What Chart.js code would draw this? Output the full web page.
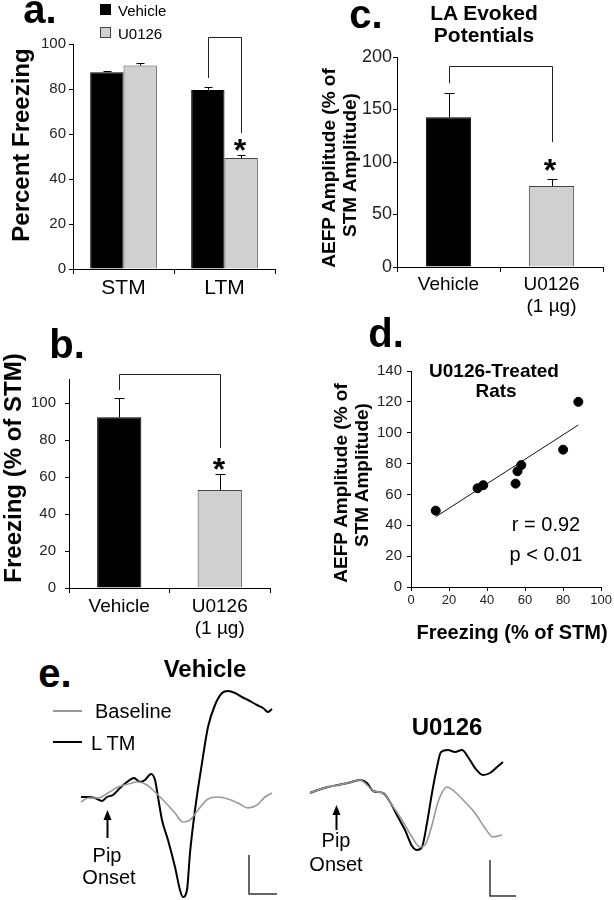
<!DOCTYPE html>
<html>
<head>
<meta charset="utf-8">
<script src="https://cdn.jsdelivr.net/npm/chart.js@4.4.1/dist/chart.umd.min.js"></script>
<style>
  body { margin: 0; background: #fff; }
  #page { position: relative; width: 614px; height: 900px; overflow: hidden; background: #fff;
          font-family: "Liberation Sans", Arial, sans-serif; color: #000; }
  #page canvas { position: absolute; }
  .t { position: absolute; white-space: nowrap; line-height: 1; transform: translate(-50%, -50%); }
  .t.left { transform: translate(0, -50%); }
  .t.rot { transform: translate(-50%, -50%) rotate(-90deg); }
  .t.b { font-weight: bold; }
  .box { position: absolute; }
</style>
</head>
<body>
<div id="page"></div>
<script>
// panel a: percent freezing
const memoryTests = ["STM", "LTM"];
const freezeVehicle = [87.4, 79.6];
const freezeVehicleErr = [0.8, 1.2];
const freezeU0126 = [90.4, 49.3];
const freezeU0126Err = [1.3, 1.4];

// panel b + c: vehicle vs drug
const groups = ["Vehicle", ["U0126", "(1 µg)"]];
const freezePctStm = [92.3, 53];
const freezePctStmErr = [10.6, 8.5];
const aefpPctStm = [142.6, 77.1];
const aefpPctStmErr = [22.8, 6.7];

// panel d: U0126 treated rats
const ratFreezing = [13, 35, 38, 55, 56, 58, 80, 88];
const ratAefp = [49.5, 64, 66, 67, 75, 79, 89, 120];
const trendFreezing = [13, 88];
const trendAefp = [45.5, 105];

// panel e: evoked potential traces (time, amplitude)
const vehLtmT = [0, 7, 14, 21, 26, 32, 39, 46, 53, 59, 64, 70, 74, 77, 81, 87, 94, 99, 102, 106, 109, 114, 121, 127, 134, 141, 147, 154, 161, 167, 176, 182, 187, 191];
const vehLtmV = [0.3, 0.3, 0.2, -0.1, 0.3, 0.5, 1.2, 1.8, 2.2, 1.8, 2.0, 2.6, 2.0, 0.3, -2.0, -4.0, -6.7, -9.0, -9.7, -9.0, -5.3, -1.0, 3.7, 7.3, 9.5, 10.7, 10.9, 10.7, 10.3, 10.0, 9.5, 9.2, 8.8, 9.1];
const vehBaseT = [0, 7, 17, 27, 37, 47, 57, 66, 74, 84, 94, 102, 109, 117, 127, 137, 147, 157, 167, 176, 184, 191];
const vehBaseV = [-0.2, 0.2, 0.2, 0.7, 1.3, 1.6, 1.8, 1.5, 0.8, -0.2, -1.3, -2.2, -2.0, -1.0, 0.1, 0.3, 0.1, -0.3, -0.8, -0.5, 0.3, 0.7];
const druLtmT = [0, 8, 18, 28, 38, 50, 57, 63, 73, 80, 88, 95, 102, 107, 112, 117, 122, 127, 131, 138, 145, 152, 158, 165, 173, 180, 187, 193];
const druLtmV = [0.7, 1.0, 1.3, 1.5, 1.7, 2.0, 1.7, 0.9, 0.7, -0.2, -1.7, -3.0, -4.6, -5.0, -4.7, -2.3, 0.7, 3.3, 4.8, 5.0, 4.8, 5.0, 4.3, 3.2, 2.5, 2.7, 3.3, 3.8];
const druBaseT = [0, 8, 18, 28, 38, 50, 57, 63, 73, 82, 92, 102, 110, 115, 122, 128, 137, 145, 155, 165, 175, 183, 192];
const druBaseV = [0.7, 1.0, 1.3, 1.5, 1.7, 2.0, 1.5, 0.9, 0.7, -0.5, -2.0, -3.7, -4.7, -4.5, -2.5, -0.2, 1.3, 0.8, -0.2, -1.3, -2.8, -3.7, -3.5];

const FONT = "'Liberation Sans', Arial, sans-serif";
const GREY = "#d0d0d0";
Chart.defaults.font.family = FONT;
Chart.defaults.color = "#000";
Chart.defaults.animation = false;
Chart.defaults.responsive = false;
Chart.defaults.devicePixelRatio = 1;
Chart.defaults.plugins.legend.display = false;
Chart.defaults.plugins.tooltip.enabled = false;

const page = document.getElementById("page");

function makeCanvas(left, top, w, h) {
  const c = document.createElement("canvas");
  c.width = w;
  c.height = h;
  c.style.left = left + "px";
  c.style.top = top + "px";
  c.style.width = w + "px";
  c.style.height = h + "px";
  page.appendChild(c);
  return c;
}

function addText(txt, x, y, size, cls) {
  const d = document.createElement("div");
  d.className = "t " + (cls || "");
  d.style.left = x + "px";
  d.style.top = y + "px";
  d.style.fontSize = size + "px";
  d.textContent = txt;
  page.appendChild(d);
}

function addBox(x, y, w, h, style) {
  const d = document.createElement("div");
  d.className = "box";
  Object.assign(d.style, { left: x + "px", top: y + "px", width: w + "px", height: h + "px" }, style);
  page.appendChild(d);
}

const pts = (xs, ys) => xs.map((x, i) => ({ x, y: ys[i] }));

// error bars (up only) and significance bracket
const barExtras = {
  id: "barExtras",
  afterDatasetsDraw(chart, args, opts) {
    const ctx = chart.ctx;
    const y = chart.scales.y;
    ctx.save();
    ctx.strokeStyle = "#000";
    ctx.lineWidth = 1;
    (opts.errors || []).forEach((errs, di) => {
      const meta = chart.getDatasetMeta(di);
      const vals = chart.data.datasets[di].data;
      meta.data.forEach((bar, i) => {
        const x = Math.round(bar.x) + 0.5;
        const top = Math.round(y.getPixelForValue(vals[i] + errs[i])) + 0.5;
        ctx.beginPath();
        ctx.moveTo(x, bar.y);
        ctx.lineTo(x, top);
        ctx.moveTo(x - opts.cap, top);
        ctx.lineTo(x + opts.cap, top);
        ctx.stroke();
      });
    });
    const br = opts.bracket;
    if (br) {
      const x1 = Math.round(chart.getDatasetMeta(br.from[0]).data[br.from[1]].x) + 0.5;
      const x2 = Math.round(chart.getDatasetMeta(br.to[0]).data[br.to[1]].x) + 0.5;
      const top = Math.round(y.getPixelForValue(br.top)) + 0.5;
      ctx.strokeStyle = "#222";
      ctx.beginPath();
      ctx.moveTo(x1, y.getPixelForValue(br.start));
      ctx.lineTo(x1, top);
      ctx.lineTo(x2, top);
      ctx.lineTo(x2, y.getPixelForValue(br.end));
      ctx.stroke();
    }
    ctx.restore();
  },
};

// pip onset arrow and scale bar on the traces
const traceMarks = {
  id: "traceMarks",
  afterDatasetsDraw(chart, args, opts) {
    const { ctx, scales: { x, y } } = chart;
    const ax = Math.round(x.getPixelForValue(opts.arrow.t)) + 0.5;
    const tail = y.getPixelForValue(opts.arrow.from);
    const tip = y.getPixelForValue(opts.arrow.to);
    ctx.save();
    ctx.strokeStyle = "#000";
    ctx.fillStyle = "#000";
    ctx.lineWidth = 2;
    ctx.beginPath();
    ctx.moveTo(ax, tail);
    ctx.lineTo(ax, tip + 8);
    ctx.stroke();
    ctx.beginPath();
    ctx.moveTo(ax, tip);
    ctx.lineTo(ax - 4, tip + 10);
    ctx.lineTo(ax + 4, tip + 10);
    ctx.closePath();
    ctx.fill();
    const s = opts.bar;
    ctx.strokeStyle = "#333";
    ctx.lineWidth = 1.5;
    ctx.beginPath();
    ctx.moveTo(x.getPixelForValue(s.t0), y.getPixelForValue(s.v0));
    ctx.lineTo(x.getPixelForValue(s.t0), y.getPixelForValue(s.v1));
    ctx.lineTo(x.getPixelForValue(s.t1), y.getPixelForValue(s.v1));
    ctx.stroke();
    ctx.restore();
  },
};

function yAxis(min, max, step, width, tickSize, pad) {
  return {
    min, max,
    ticks: { stepSize: step, includeBounds: false, font: { size: tickSize }, color: "#222", padding: pad },
    grid: { drawOnChartArea: false, tickLength: 4, color: "#000" },
    border: { color: "#000" },
    afterFit: (s) => { s.width = width; },
  };
}

function catAxis(height, labelSize, pad) {
  return {
    ticks: { font: { size: labelSize }, color: "#000", padding: pad },
    grid: { offset: true, drawOnChartArea: false, tickLength: 5, color: "#000" },
    border: { color: "#000" },
    afterFit: (s) => { s.height = height; },
  };
}

// ---- panel a ----
new Chart(makeCanvas(0, 0, 300, 300), {
  type: "bar",
  data: {
    labels: memoryTests,
    datasets: [
      { label: "Vehicle", data: freezeVehicle, backgroundColor: "#000", borderColor: "#000", borderWidth: 1 },
      { label: "U0126", data: freezeU0126, backgroundColor: GREY, borderColor: "#444", borderWidth: 1 },
    ],
  },
  options: {
    layout: { padding: { top: 44, right: 25, left: 0, bottom: 0 } },
    datasets: { bar: { barPercentage: 1, categoryPercentage: 0.66 } },
    scales: { x: catAxis(31, 21, 2), y: yAxis(0, 100, 20, 73, 15, 3) },
    plugins: {
      barExtras: {
        cap: 4,
        errors: [freezeVehicleErr, freezeU0126Err],
        bracket: { from: [0, 1], to: [1, 1], start: 84.9, top: 103.1, end: 60.4 },
      },
    },
  },
  plugins: [barExtras],
});

// ---- panel c ----
new Chart(makeCanvas(300, 0, 314, 330), {
  type: "bar",
  data: {
    labels: groups,
    datasets: [{ data: aefpPctStm, backgroundColor: ["#000", GREY], borderColor: ["#000", "#444"], borderWidth: 1 }],
  },
  options: {
    layout: { padding: { top: 57, right: 11, left: 0, bottom: 0 } },
    datasets: { bar: { barPercentage: 1, categoryPercentage: 0.44 } },
    scales: { x: catAxis(63, 19, 1), y: yAxis(0, 200, 50, 97, 18, 1) },
    plugins: {
      barExtras: {
        cap: 5,
        errors: [aefpPctStmErr],
        bracket: { from: [0, 0], to: [0, 1], start: 175, top: 191, end: 119 },
      },
    },
  },
  plugins: [barExtras],
});

// ---- panel b ----
new Chart(makeCanvas(0, 300, 300, 345), {
  type: "bar",
  data: {
    labels: groups,
    datasets: [{ data: freezePctStm, backgroundColor: ["#000", GREY], borderColor: ["#000", "#444"], borderWidth: 1 }],
  },
  options: {
    layout: { padding: { top: 79, right: 30, left: 0, bottom: 0 } },
    datasets: { bar: { barPercentage: 1, categoryPercentage: 0.44 } },
    scales: { x: catAxis(57, 19, 2), y: yAxis(0, 113, 20, 69, 15, 9) },
    plugins: {
      barExtras: {
        cap: 5,
        errors: [freezePctStmErr],
        bracket: { from: [0, 0], to: [0, 1], start: 107, top: 115.7, end: 75.7 },
      },
    },
  },
  plugins: [barExtras],
});

// ---- panel d ----
new Chart(makeCanvas(300, 300, 314, 345), {
  type: "scatter",
  data: {
    datasets: [
      { data: pts(trendFreezing, trendAefp), showLine: true, borderColor: "#111", borderWidth: 1, pointRadius: 0 },
      { data: pts(ratFreezing, ratAefp), backgroundColor: "#000", borderColor: "#000", pointRadius: 4.5 },
    ],
  },
  options: {
    layout: { padding: { top: 71, right: 10, left: 0, bottom: 0 } },
    scales: {
      x: {
        type: "linear", min: 0, max: 100,
        ticks: { stepSize: 20, font: { size: 13 }, color: "#222", padding: 2 },
        grid: { drawOnChartArea: false, tickLength: 4, color: "#000" },
        border: { color: "#000" },
        afterFit: (s) => { s.height = 58; },
      },
      y: yAxis(0, 140, 20, 111, 15, 5),
    },
  },
});

// ---- panel e ----
function traceChart(left, w, padL, padR, tMax, baseT, baseV, ltmT, ltmV, marks) {
  new Chart(makeCanvas(left, 680, w, 220), {
    type: "line",
    data: {
      datasets: [
        { label: "Baseline", data: pts(baseT, baseV), borderColor: "#999", borderWidth: 1.6, pointRadius: 0, cubicInterpolationMode: "monotone", clip: false },
        { label: "LTM", data: pts(ltmT, ltmV), borderColor: "#000", borderWidth: 2, pointRadius: 0, cubicInterpolationMode: "monotone", clip: false },
      ],
    },
    options: {
      layout: { padding: { left: padL, right: padR, top: 0, bottom: 0 } },
      scales: {
        x: { type: "linear", display: false, min: 0, max: tMax },
        y: { display: false, min: -10, max: 12 },
      },
      plugins: { traceMarks: marks },
    },
    plugins: [traceMarks],
  });
}

traceChart(75, 210, 6, 13, 191, vehBaseT, vehBaseV, vehLtmT, vehLtmV, {
  arrow: { t: 26, from: -3.8, to: -1.0 },
  bar: { t0: 168, t1: 196, v0: -5.5, v1: -9.4 },
});
traceChart(300, 230, 10, 27, 193, druBaseT, druBaseV, druLtmT, druLtmV, {
  arrow: { t: 26, from: -3.0, to: -0.5 },
  bar: { t0: 180, t1: 206, v0: -6.0, v1: -9.6 },
});

// ---- text ----
addText("a.", 40, 9, 40, "b");
addBox(100, 4, 11, 11, { background: "#000" });
addText("Vehicle", 118, 10, 15, "left");
addBox(100, 27, 11, 11, { background: GREY, border: "1px solid #444", boxSizing: "border-box" });
addText("U0126", 118, 33, 15, "left");
addText("Percent Freezing", 21, 145, 24, "b rot");
addText("*", 240, 150, 32, "b");

addText("c.", 366, 14, 40, "b");
addText("LA Evoked", 484, 12, 21, "b");
addText("Potentials", 484, 34, 21, "b");
addText("AEFP Amplitude (% of", 328, 168, 19, "b rot");
addText("STM Amplitude)", 349, 165, 19, "b rot");
addText("*", 550, 170, 32, "b");

addText("b.", 67, 344, 40, "b");
addText("Freezing (% of STM)", 13, 468, 24, "b rot");
addText("*", 219, 469, 32, "b");

addText("d.", 386, 333, 40, "b");
addText("U0126-Treated", 494, 370, 19, "b");
addText("Rats", 496, 390, 19, "b");
addText("AEFP Amplitude (% of", 340, 483, 19, "b rot");
addText("STM Amplitude)", 361, 475, 19, "b rot");
addText("r = 0.92", 546, 524, 20);
addText("p < 0.01", 546, 554, 20);
addText("Freezing (% of STM)", 512, 632, 20, "b");

addText("e.", 55, 673, 40, "b");
addText("Vehicle", 205, 669, 24, "b");
addText("U0126", 447, 727, 24, "b");
addBox(53, 710, 29, 2, { background: "#999" });
addText("Baseline", 95, 711, 20, "left");
addBox(53, 741, 29, 2, { background: "#000" });
addText("L TM", 91, 743, 20, "left");
addText("Pip", 107, 855, 20);
addText("Onset", 109, 877, 20);
addText("Pip", 336, 840, 20);
addText("Onset", 336, 864, 20);
</script>
</body>
</html>
